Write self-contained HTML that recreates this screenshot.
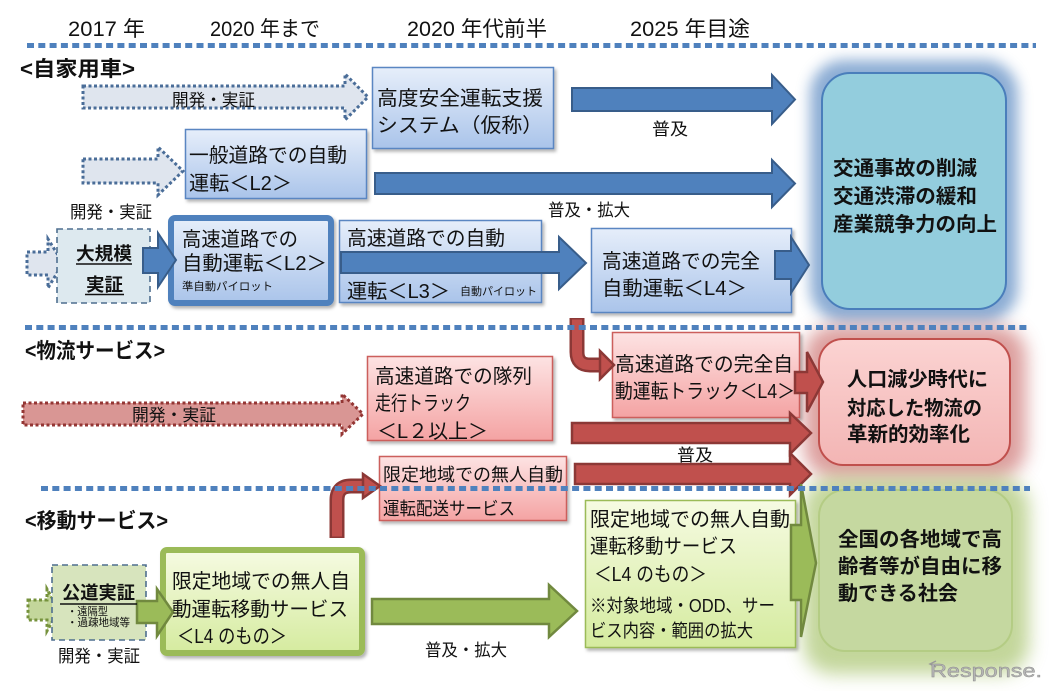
<!DOCTYPE html>
<html><head><meta charset="utf-8">
<style>
html,body{margin:0;padding:0;background:#fff;}
svg{display:block;}
text{font-family:"Liberation Sans","Noto Sans CJK JP",sans-serif;fill:#111;}
.b{font-weight:bold;}
</style></head>
<body>
<svg width="1054" height="691" viewBox="0 0 1054 691" xmlns="http://www.w3.org/2000/svg">
<defs>
  <linearGradient id="gBlue" x1="0" y1="0" x2="0" y2="1">
    <stop offset="0" stop-color="#e6eefa"/><stop offset="1" stop-color="#aac4ea"/>
  </linearGradient>
  <linearGradient id="gRed" x1="0" y1="0" x2="0" y2="1">
    <stop offset="0" stop-color="#fde3e3"/><stop offset="1" stop-color="#f4a3a3"/>
  </linearGradient>
  <linearGradient id="gGreen" x1="0" y1="0" x2="0" y2="1">
    <stop offset="0" stop-color="#f6fbe2"/><stop offset="1" stop-color="#d5eb9f"/>
  </linearGradient>
  <linearGradient id="gGoal2" x1="0" y1="0" x2="0" y2="1">
    <stop offset="0" stop-color="#fbd3d2"/><stop offset="1" stop-color="#f3b5b4"/>
  </linearGradient>
  <filter id="blur8" x="-30%" y="-30%" width="160%" height="160%"><feGaussianBlur stdDeviation="7"/></filter>
  <filter id="blur10" x="-30%" y="-30%" width="160%" height="160%"><feGaussianBlur stdDeviation="9"/></filter>
  <filter id="sh" x="-10%" y="-10%" width="125%" height="130%">
    <feDropShadow dx="2" dy="2.5" stdDeviation="1.5" flood-color="#000" flood-opacity="0.3"/>
  </filter>
</defs>

<!-- glows -->
<rect x="810" y="60" width="208" height="262" rx="34" fill="#4f81bd" opacity="0.65" filter="url(#blur8)"/>
<rect x="804" y="326" width="222" height="152" rx="30" fill="#c0504d" opacity="0.55" filter="url(#blur10)"/>
<rect x="803" y="478" width="226" height="196" rx="30" fill="#9bbb59" opacity="0.6" filter="url(#blur10)"/>

<!-- goal boxes -->
<rect x="822" y="73" width="184" height="236" rx="28" fill="#93cddd" stroke="#4a7ebb" stroke-width="2"/>
<rect x="819" y="339" width="191" height="126" rx="24" fill="url(#gGoal2)" stroke="#c0504d" stroke-width="2"/>
<rect x="819" y="490" width="193" height="161" rx="26" fill="#c5d8a0" stroke="#b4cc84" stroke-width="2"/>

<!-- dotted arrows -->
<path d="M83,86 L345,86 L345,74 L368,97 L345,120 L345,108 L83,108 Z" fill="#dfe5ee" stroke="#4a6d98" stroke-width="3" stroke-dasharray="3 2.5"/>
<path d="M83,159 L158,159 L158,147 L183,171 L158,195 L158,183 L83,183 Z" fill="#dfe5ee" stroke="#4a6d98" stroke-width="3" stroke-dasharray="3 2.5"/>
<path d="M27,252 L48,252 L48,239 L63,263 L48,288 L48,275 L27,275 Z" fill="#dfe5ee" stroke="#4a6d98" stroke-width="3" stroke-dasharray="3 2.5"/>
<path d="M23,403 L342,403 L342,394 L363,414 L342,434 L342,425 L23,425 Z" fill="#d99694" stroke="#943634" stroke-width="3" stroke-dasharray="3 2.5"/>
<path d="M28,600 L47,600 L47,589 L59,610 L47,631 L47,620 L28,620 Z" fill="#c3d69b" stroke="#76923c" stroke-width="3" stroke-dasharray="3 2.5"/>

<!-- dashed boxes -->
<rect x="57" y="229" width="93" height="74" fill="#dde9ef" stroke="#4f6f8f" stroke-width="1.6" stroke-dasharray="6 4"/>
<rect x="52" y="565" width="94" height="75" fill="#d7e4bd" stroke="#4f6f8f" stroke-width="1.6" stroke-dasharray="6 4"/>

<!-- blue boxes -->
<g filter="url(#sh)">
<rect x="372.5" y="67.5" width="181" height="81" fill="url(#gBlue)" stroke="#5a86c2" stroke-width="1.5"/>
<rect x="185.5" y="129.5" width="181" height="69" fill="url(#gBlue)" stroke="#5a86c2" stroke-width="1.5"/>
<rect x="171" y="218" width="160" height="85" rx="4" fill="url(#gBlue)" stroke="#4f81bd" stroke-width="6"/>
<rect x="339.5" y="220.5" width="202" height="82" fill="url(#gBlue)" stroke="#5a86c2" stroke-width="1.5"/>
<rect x="591.5" y="228.5" width="200" height="84" fill="url(#gBlue)" stroke="#5a86c2" stroke-width="1.5"/>
<!-- red boxes -->
<rect x="612.5" y="332.5" width="187" height="85" fill="url(#gRed)" stroke="#cc5e5b" stroke-width="1.5"/>
<rect x="367.5" y="356.5" width="185" height="84" fill="url(#gRed)" stroke="#cc5e5b" stroke-width="1.5"/>
<rect x="379.5" y="456.5" width="187" height="64" fill="url(#gRed)" stroke="#cc5e5b" stroke-width="1.5"/>
<!-- green boxes -->
<rect x="163" y="550" width="199" height="103" rx="4" fill="url(#gGreen)" stroke="#9bbb59" stroke-width="6"/>
<rect x="585.5" y="500.5" width="210" height="147" fill="url(#gGreen)" stroke="#9bbb59" stroke-width="1.5"/>
</g>

<!-- blue arrows -->
<g fill="#4f81bd" stroke="#385d8a" stroke-width="2" stroke-linejoin="miter">
<path d="M572,88 L772,88 L772,75 L795,99.5 L772,124 L772,111 L572,111 Z"/>
<path d="M375,173 L772,173 L772,160 L795,183.5 L772,207 L772,194 L375,194 Z"/>
<path d="M143,248 L158,248 L158,233 L176,260 L158,287 L158,273 L143,273 Z"/>
<path d="M341,252 L559,252 L559,237 L586,263 L559,289 L559,273 L341,273 Z"/>
<path d="M775,251 L791,251 L791,237 L809,265 L791,293 L791,279 L775,279 Z"/>
</g>

<!-- red arrows -->
<g fill="#c0504d" stroke="#8c3836" stroke-width="2.5">
<path d="M795,372 L807,372 L807,352 L823,382 L807,412 L807,393 L795,393 Z"/>
<path d="M572,423 L790,423 L790,413 L811,433 L790,454 L790,443 L572,443 Z"/>
<path d="M575,464 L790,464 L790,453 L811,474 L790,495 L790,484 L575,484 Z"/>
</g>
<!-- elbow arrows -->
<path d="M577,318 L577,352 Q577,365 590,365 L602,365" fill="none" stroke="#8c3836" stroke-width="15"/>
<path d="M577,319.5 L577,352 Q577,365 590,365 L603,365" fill="none" stroke="#c0504d" stroke-width="10"/>
<path d="M600,351 L614,365 L600,379 Z" fill="#c0504d" stroke="#8c3836" stroke-width="2.5"/>
<path d="M337,538 L337,500 Q337,486 351,486 L365,486" fill="none" stroke="#8c3836" stroke-width="15"/>
<path d="M337,536.5 L337,500 Q337,486 351,486 L366,486" fill="none" stroke="#c0504d" stroke-width="10"/>
<path d="M363,474 L380,486 L363,498 Z" fill="#c0504d" stroke="#8c3836" stroke-width="2.5"/>

<!-- green arrows -->
<g fill="#9bbb59" stroke="#71893f" stroke-width="2.5">
<path d="M137,601 L157,601 L157,589 L173,612 L157,636 L157,623 L137,623 Z"/>
<path d="M372,599 L549,599 L549,585 L577,611 L549,637 L549,624 L372,624 Z"/>
<path d="M791,525 L801,525 L801,484 L816,563 L801,637 L801,600 L791,600 Z"/>
</g>

<!-- dotted lines -->
<g stroke="#4f81bd" stroke-width="5" stroke-dasharray="7 4.3" fill="none">
<line x1="27" y1="45.5" x2="1036" y2="45.5"/>
<line x1="25" y1="327.5" x2="1030" y2="327.5"/>
<line x1="41" y1="488.5" x2="1030" y2="488.5"/>
</g>

<!-- underlines -->
<g stroke="#111" stroke-width="1.5">
<line x1="76" y1="264" x2="132" y2="264"/>
<line x1="85" y1="294.5" x2="124" y2="294.5"/>
<line x1="60" y1="604" x2="137" y2="604"/>
</g>

<!-- header texts -->
<g font-size="21" lengthAdjust="spacingAndGlyphs">
<text x="68" y="36" textLength="77" lengthAdjust="spacingAndGlyphs">2017 年</text>
<text x="210" y="36" textLength="110" lengthAdjust="spacingAndGlyphs">2020 年まで</text>
<text x="407" y="36" textLength="140" lengthAdjust="spacingAndGlyphs">2020 年代前半</text>
<text x="630" y="36" textLength="120" lengthAdjust="spacingAndGlyphs">2025 年目途</text>
</g>
<text class="b" x="20" y="76" font-size="21" textLength="115" lengthAdjust="spacingAndGlyphs">&lt;自家用車&gt;</text>
<text class="b" x="25" y="358" font-size="21" textLength="140" lengthAdjust="spacingAndGlyphs">&lt;物流サービス&gt;</text>
<text class="b" x="25" y="528" font-size="21" textLength="143" lengthAdjust="spacingAndGlyphs">&lt;移動サービス&gt;</text>

<!-- small labels -->
<g font-size="17">
<text x="172" y="106" textLength="83" lengthAdjust="spacingAndGlyphs">開発・実証</text>
<text x="652" y="135" textLength="36" lengthAdjust="spacingAndGlyphs">普及</text>
<text x="70" y="218" textLength="82" lengthAdjust="spacingAndGlyphs">開発・実証</text>
<text x="548" y="216" textLength="82" lengthAdjust="spacingAndGlyphs">普及・拡大</text>
<text x="132" y="421" textLength="84" lengthAdjust="spacingAndGlyphs">開発・実証</text>
<text x="677" y="461" textLength="36" lengthAdjust="spacingAndGlyphs">普及</text>
<text x="58" y="662" textLength="82" lengthAdjust="spacingAndGlyphs">開発・実証</text>
<text x="425" y="656" textLength="82" lengthAdjust="spacingAndGlyphs">普及・拡大</text>
</g>

<!-- bold small box labels -->
<g class="b" font-size="18">
<text class="b" x="76" y="260" textLength="56" lengthAdjust="spacingAndGlyphs">大規模</text>
<text class="b" x="86" y="291" textLength="37" lengthAdjust="spacingAndGlyphs">実証</text>
<text class="b" x="62" y="599" textLength="73" lengthAdjust="spacingAndGlyphs">公道実証</text>
</g>
<g font-size="11">
<text x="67" y="615" textLength="41" lengthAdjust="spacingAndGlyphs">・遠隔型</text>
<text x="67" y="626" textLength="63" lengthAdjust="spacingAndGlyphs">・過疎地域等</text>
<text x="182" y="290" textLength="91" lengthAdjust="spacingAndGlyphs">準自動パイロット</text>
<text x="460" y="295" textLength="77" lengthAdjust="spacingAndGlyphs">自動パイロット</text>
</g>

<!-- box texts -->
<g font-size="20">
<text x="377" y="105" textLength="166" lengthAdjust="spacingAndGlyphs">高度安全運転支援</text>
<text x="377" y="132" textLength="166" lengthAdjust="spacingAndGlyphs">システム（仮称）</text>
<text x="189" y="162" textLength="158" lengthAdjust="spacingAndGlyphs">一般道路での自動</text>
<text x="189" y="190" textLength="103" lengthAdjust="spacingAndGlyphs">運転＜L2＞</text>
<text x="182" y="246" textLength="116" lengthAdjust="spacingAndGlyphs">高速道路での</text>
<text x="182" y="270" textLength="145" lengthAdjust="spacingAndGlyphs">自動運転＜L2＞</text>
<text x="347" y="245" textLength="158" lengthAdjust="spacingAndGlyphs">高速道路での自動</text>
<text x="347" y="298" textLength="103" lengthAdjust="spacingAndGlyphs">運転＜L3＞</text>
<text x="602" y="268" textLength="158" lengthAdjust="spacingAndGlyphs">高速道路での完全</text>
<text x="602" y="295" textLength="145" lengthAdjust="spacingAndGlyphs">自動運転＜L4＞</text>
<text x="615" y="371" textLength="178" lengthAdjust="spacingAndGlyphs">高速道路での完全自</text>
<text x="615" y="398" textLength="180" lengthAdjust="spacingAndGlyphs">動運転トラック＜L4＞</text>
<text x="375" y="383" textLength="157" lengthAdjust="spacingAndGlyphs">高速道路での隊列</text>
<text x="375" y="410" textLength="96" lengthAdjust="spacingAndGlyphs">走行トラック</text>
<text x="377" y="438" textLength="111" lengthAdjust="spacingAndGlyphs">＜L２以上＞</text>
<text x="172" y="588" textLength="178" lengthAdjust="spacingAndGlyphs">限定地域での無人自</text>
<text x="172" y="616" textLength="176" lengthAdjust="spacingAndGlyphs">動運転移動サービス</text>
<text x="177" y="643" textLength="110" lengthAdjust="spacingAndGlyphs">＜L4 のもの＞</text>
<text x="590" y="526" textLength="200" lengthAdjust="spacingAndGlyphs">限定地域での無人自動</text>
<text x="590" y="553" textLength="147" lengthAdjust="spacingAndGlyphs">運転移動サービス</text>
<text x="594" y="581" textLength="113" lengthAdjust="spacingAndGlyphs">＜L4 のもの＞</text>
</g>
<g font-size="18">
<text x="383" y="481" textLength="180" lengthAdjust="spacingAndGlyphs">限定地域での無人自動</text>
<text x="383" y="515" textLength="132" lengthAdjust="spacingAndGlyphs">運転配送サービス</text>
<text x="590" y="612" textLength="185" lengthAdjust="spacingAndGlyphs">※対象地域・ODD、サー</text>
<text x="590" y="637" textLength="163" lengthAdjust="spacingAndGlyphs">ビス内容・範囲の拡大</text>
</g>

<!-- goal texts -->
<g font-size="20">
<text class="b" x="833" y="175" textLength="144" lengthAdjust="spacingAndGlyphs">交通事故の削減</text>
<text class="b" x="833" y="203" textLength="144" lengthAdjust="spacingAndGlyphs">交通渋滞の緩和</text>
<text class="b" x="833" y="231" textLength="164" lengthAdjust="spacingAndGlyphs">産業競争力の向上</text>
<text class="b" x="847" y="386" textLength="141" lengthAdjust="spacingAndGlyphs">人口減少時代に</text>
<text class="b" x="847" y="415" textLength="135" lengthAdjust="spacingAndGlyphs">対応した物流の</text>
<text class="b" x="847" y="441" textLength="123" lengthAdjust="spacingAndGlyphs">革新的効率化</text>
<text class="b" x="838" y="546" textLength="164" lengthAdjust="spacingAndGlyphs">全国の各地域で高</text>
<text class="b" x="838" y="573" textLength="164" lengthAdjust="spacingAndGlyphs">齢者等が自由に移</text>
<text class="b" x="838" y="600" textLength="120" lengthAdjust="spacingAndGlyphs">動できる社会</text>
</g>

<!-- Response logo -->
<path d="M936,661 L930,664 L936,667" fill="none" stroke="#9a9a9a" stroke-width="1.5"/>
<text x="930" y="677" font-size="18" textLength="112" lengthAdjust="spacingAndGlyphs" style="fill:#b5b5b5;stroke:#8a8a8a;stroke-width:0.4">Response.</text>
</svg>
</body></html>
